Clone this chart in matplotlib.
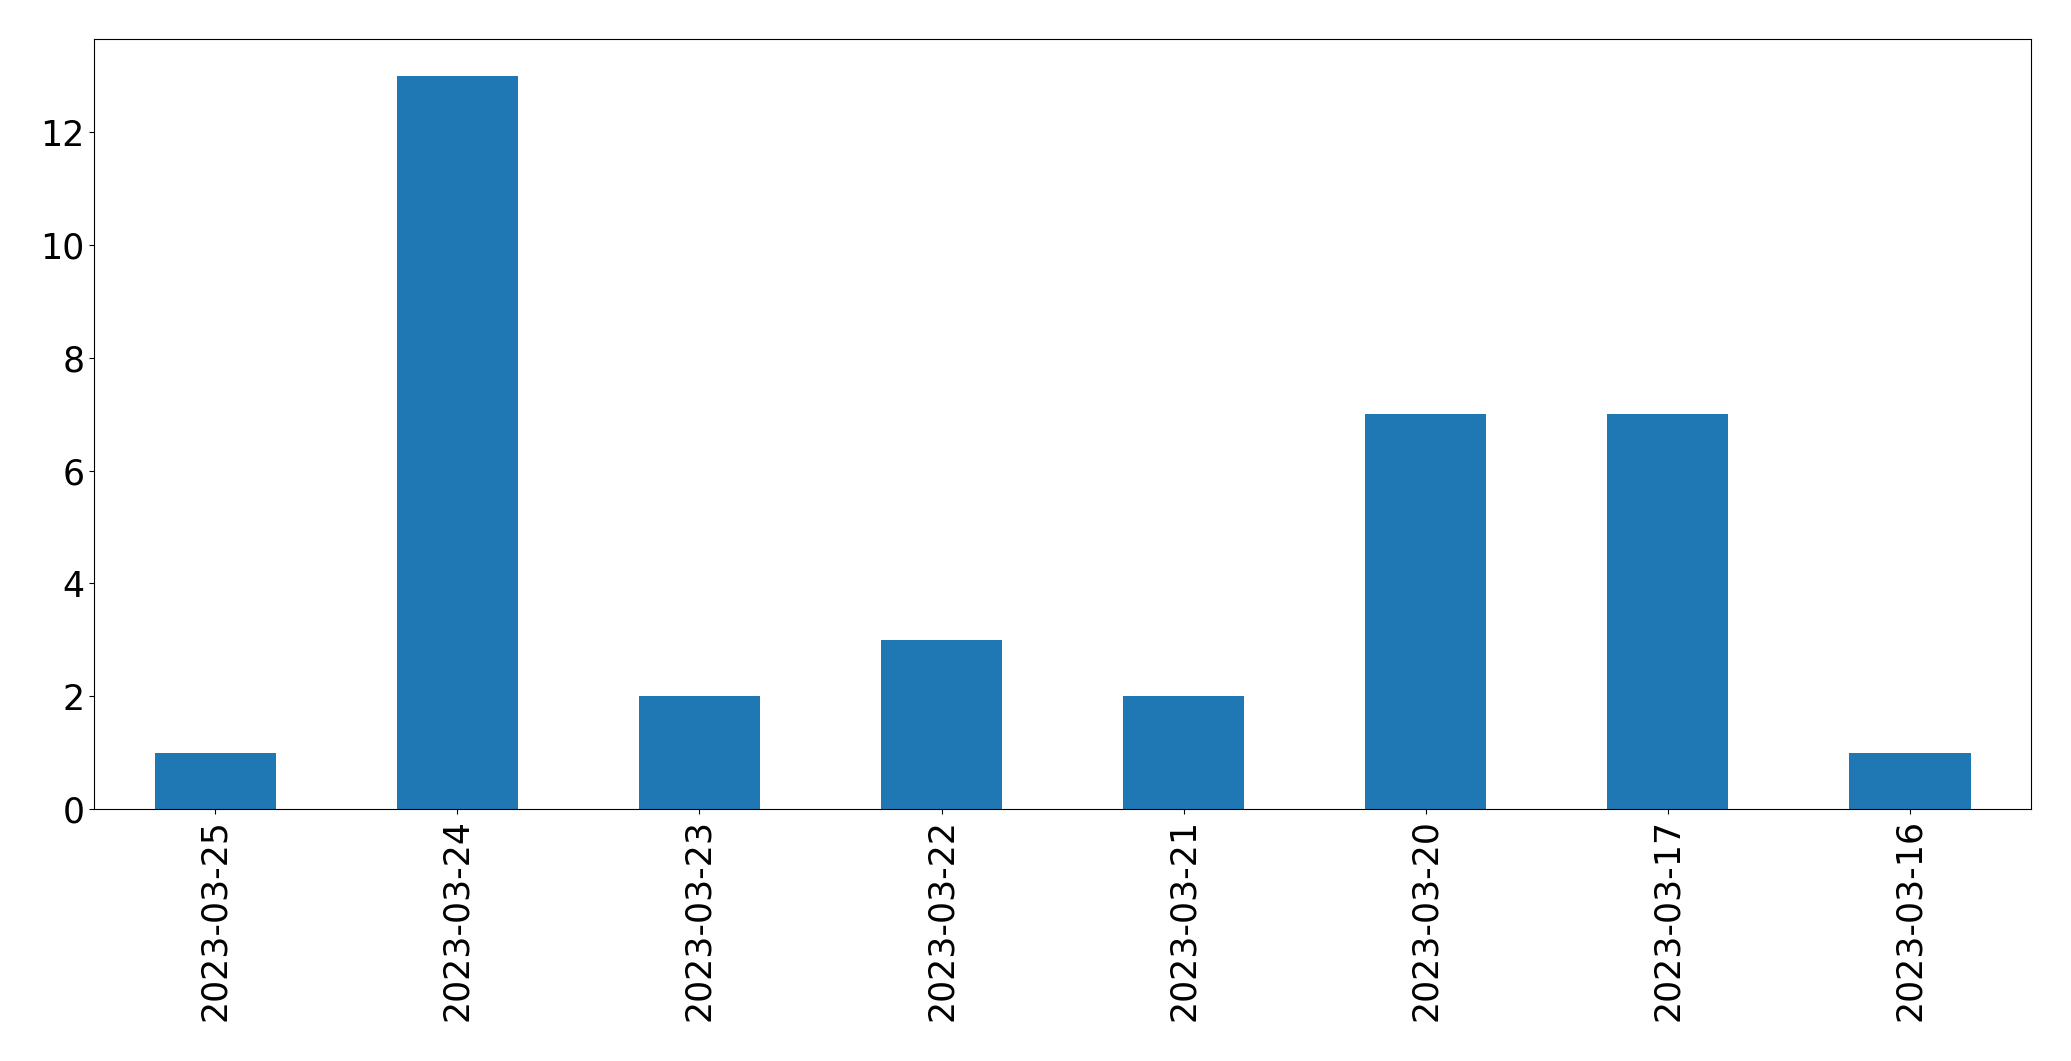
import matplotlib
matplotlib.use("Agg")
import matplotlib.pyplot as plt

dates = ['2023-03-25', '2023-03-24', '2023-03-23', '2023-03-22',
         '2023-03-21', '2023-03-20', '2023-03-17', '2023-03-16']
counts = [1, 13, 2, 3, 2, 7, 7, 1]

def main():
    fig, ax = plt.subplots(figsize=(20.71, 10.61), dpi=100)
    fig.subplots_adjust(left=0.0455, right=0.9807, top=0.963, bottom=0.2375)

    x = list(range(len(dates)))
    ax.bar(x, counts, width=0.5, color='#1f77b4')
    ax.set_xlim(-0.5, len(dates) - 0.5)
    ax.set_ylim(0, max(counts) * 1.05)
    ax.set_xticks(x)
    ax.set_xticklabels(dates, rotation=90)
    ax.tick_params(axis='both', labelsize=25)

    fig.savefig('out.png', dpi=100)

if __name__ == "__main__":
    main()
